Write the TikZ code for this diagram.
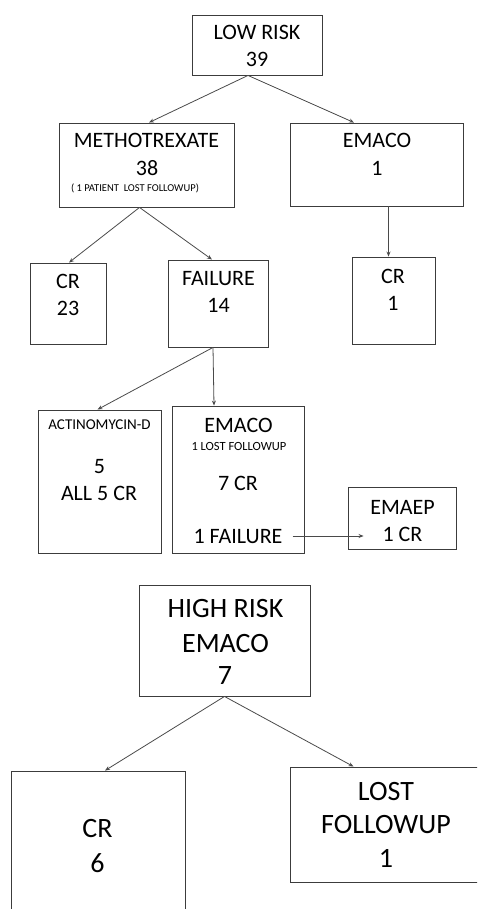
\documentclass[tikz,border=0pt]{standalone}
\usepackage{fontspec}
\setmainfont{Carlito}
\usetikzlibrary{arrows.meta}
\definecolor{boxline}{HTML}{3C3C3C}
\definecolor{arrowline}{HTML}{4A4A4A}
\tikzset{
  box/.style={draw=boxline, line width=0.9pt, inner sep=0pt, fill=none},
  lbl/.style={anchor=base, inner sep=0pt, font=\fontsize{22}{26}\selectfont},
  biglbl/.style={anchor=base, inner sep=0pt, font=\fontsize{28}{32}\selectfont},
  flow/.style={draw=arrowline, line width=0.8pt, -{Stealth[length=5pt,width=4pt]}},
}
\begin{document}
\begin{tikzpicture}[x=1pt, y=-1pt]
\useasboundingbox (0,0) rectangle (477,909);
\clip (0,0) rectangle (477,909);

% ---- low-risk branch: boxes ----
\node[box, minimum width=130pt, minimum height=60pt] (low) at (257,45) {};
\node[box, minimum width=175pt, minimum height=84pt] (meth) at (146.5,165) {};
\node[box, minimum width=173pt, minimum height=83pt] (emacoA) at (376.5,164.5) {};
\node[box, minimum width=76pt, minimum height=81pt] (crA) at (68,303.5) {};
\node[box, minimum width=100pt, minimum height=87pt] (fail) at (218,303.5) {};
\node[box, minimum width=83pt, minimum height=87pt] (crB) at (393.5,300.5) {};
\node[box, minimum width=123pt, minimum height=143pt] (actd) at (99.5,481.5) {};
\node[box, minimum width=132pt, minimum height=147pt] (emacoB) at (238,479.5) {};
\node[box, minimum width=108pt, minimum height=62pt] (emaep) at (402,518) {};

% ---- low-risk branch: labels ----
\node[lbl] (lowT) at (257,40) {LOW RISK};
\node[lbl] (lowN) at (257,66.5) {39};
\node[lbl] (methT) at (146.5,148) {METHOTREXATE};
\node[lbl] (methN) at (147,176) {38};
\node[anchor=base, inner sep=0pt, font=\fontsize{10.5}{12}\selectfont] (methS) at (135,192) {( 1 PATIENT\ \ LOST FOLLOWUP)};
\node[lbl] (emacoAT) at (377,148) {EMACO};
\node[lbl] (emacoAN) at (377,176) {1};
\node[lbl] (crAT) at (68,288) {CR};
\node[lbl] (crAN) at (68,315) {23};
\node[lbl] (failT) at (218.5,285.5) {FAILURE};
\node[lbl] (failN) at (218.5,312) {14};
\node[lbl] (crBT) at (393,283) {CR};
\node[lbl] (crBN) at (393,310) {1};
\node[anchor=base, inner sep=0pt, font=\fontsize{15}{18}\selectfont] (actdT) at (99.5,429) {ACTINOMYCIN-D};
\node[lbl] (actdN) at (99.5,473) {5};
\node[lbl] (actdR) at (99,500) {ALL 5 CR};
\node[lbl] (emacoBT) at (238.5,432) {EMACO};
\node[anchor=base, inner sep=0pt, font=\fontsize{12.5}{15}\selectfont] (emacoBS) at (239,450) {1 LOST FOLLOWUP};
\node[lbl] (emacoBR) at (238,490) {7 CR};
\node[lbl] (emacoBF) at (238,543) {1 FAILURE};
\node[lbl] (emaepT) at (402.5,514) {EMAEP};
\node[lbl] (emaepR) at (402.5,541) {1 CR};

% ---- low-risk branch: connectors ----
\draw[flow] ([xshift=-9pt]low.south) -- ([xshift=2.5pt]meth.north);
\draw[flow] ([xshift=-9pt]low.south) -- ([xshift=-22.5pt]emacoA.north);
\draw[flow] ([xshift=-7pt]meth.south) -- ([xshift=1pt]crA.north);
\draw[flow] ([xshift=-7pt]meth.south) -- ([xshift=-6pt]fail.north);
\draw[flow] ([xshift=12pt]emacoA.south) -- ([xshift=12pt]emacoA.south |- crB.north);
\draw[flow] ([xshift=-5pt]fail.south) -- ([xshift=-2pt]actd.north);
\draw[flow] ([xshift=-5pt]fail.south) -- ([xshift=-24pt]emacoB.north);
\draw[flow] ([xshift=10pt]emacoBF.east) -- ([xshift=16pt]emacoBF.east -| emaep.west);

% ---- high-risk branch ----
\node[box, minimum width=171pt, minimum height=111pt] (high) at (224.5,640.5) {};
\node[box, minimum width=174pt, minimum height=144pt] (crC) at (98,843) {};
\node[box, minimum width=192pt, minimum height=115pt] (lost) at (386,824.5) {};

\node[biglbl] (highT) at (225.5,617) {HIGH RISK};
\node[biglbl] (highD) at (225.5,652) {EMACO};
\node[biglbl] (highN) at (225,684) {7};
\node[biglbl] (crCT) at (97.5,837) {CR};
\node[biglbl] (crCN) at (97.5,872) {6};
\node[biglbl] (lostT) at (386,800) {LOST};
\node[biglbl] (lostF) at (386,833) {FOLLOWUP};
\node[biglbl] (lostN) at (386,867) {1};

\draw[flow] (high.south) -- ([xshift=7pt]crC.north);
\draw[flow] (high.south) -- ([xshift=-32.5pt]lost.north);
\end{tikzpicture}
\end{document}
